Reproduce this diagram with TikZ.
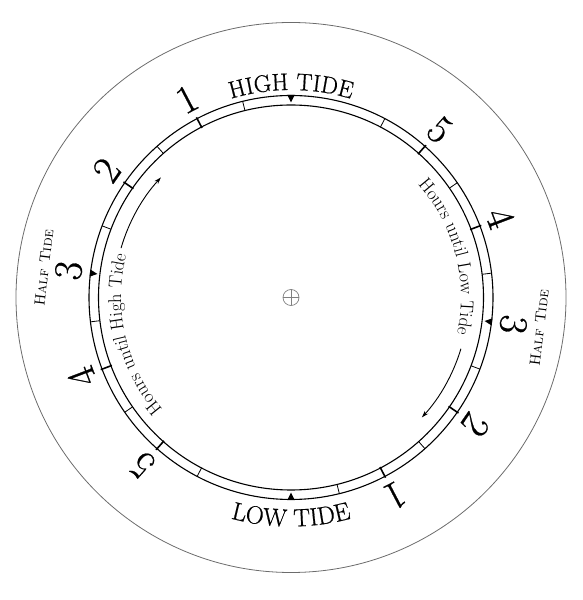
\documentclass[tikz,border=0pt]{standalone}
\usepackage{fontspec}
\newfontfamily\dialfont{Latin Modern Roman}[FakeBold=0.6]
\usetikzlibrary{decorations.text,arrows.meta}
\begin{document}
\begin{tikzpicture}[x=1pt,y=1pt,
  outerline/.style={draw=gray!85!black, line width=0.8pt},
  ringline/.style={line width=1.1pt},
  ticklight/.style={line width=0.8pt},
  tickbold/.style={line width=1.6pt},
  numlab/.style={font=\dialfont\fontsize{40}{40}\selectfont, inner sep=0pt},
  halflab/.style={font=\fontsize{15}{15}\selectfont\scshape, inner sep=0pt},
  tidemark/.style={fill=black},
  hoursarrow/.style={line width=0.9pt, -{Stealth[length=7pt,width=4.5pt]}},
  centermark/.style={draw=gray, line width=0.7pt},
]
\useasboundingbox (0,0) rectangle (582,600);
\begin{scope}[shift={(291,302.5)}]
\coordinate (C) at (0,0);
\draw[outerline] (C) circle[radius=275];
\draw[ringline] (C) circle[radius=202];
\draw[ringline] (C) circle[radius=192.5];
% light ticks
\foreach \k in {1,3,5,7,9,11} {
  \draw[ticklight] ({90+\k*180/13}:192.5) -- ({90+\k*180/13}:202);
  \draw[ticklight] ({-90+\k*180/13}:192.5) -- ({-90+\k*180/13}:202);
}
% labelled ticks
\foreach \k/\n in {2/1,4/2,8/4,10/5} {
  \draw[tickbold] ({90+\k*180/13}:191.5) -- ({90+\k*180/13}:203.5);
  \draw[tickbold] ({-90+\k*180/13}:191.5) -- ({-90+\k*180/13}:203.5);
  \node[numlab, rotate={\k*180/13}] (L\n) at ({90+\k*180/13}:224) {\n};
  \node[numlab, rotate={\k*180/13-180}] (R\n) at ({-90+\k*180/13}:224) {\n};
}
% half tide
\node[numlab, rotate={6*180/13}] (L3) at ({90+6*180/13}:224) {3};
\node[numlab, rotate={6*180/13-180}] (R3) at ({-90+6*180/13}:224) {3};
\node[halflab, rotate={6*180/13}] (LH) at ({90+6*180/13}:249) {Half Tide};
\node[halflab, rotate={6*180/13}] (RH) at ({-90+6*180/13}:250) {Half Tide};
% triangles
\foreach \a in {90,270,{90+6*180/13},{-90+6*180/13}} {
  \fill[tidemark, rotate=\a] (202.5,3.6) -- (202.5,-3.6) -- (195,0) -- cycle;
}
% curved titles
\path[decorate, decoration={text along path, text align=center,
  text={|\dialfont\fontsize{24}{24}\selectfont|HIGH TIDE}}]
  (130:207.5) arc[start angle=130, end angle=50, radius=207.5];
\path[decorate, decoration={text along path, text align=center,
  text={|\dialfont\fontsize{25}{25}\selectfont|LOW TIDE}}]
  (230:229) arc[start angle=230, end angle=310, radius=229];
% hours texts
\path[decorate, decoration={text along path,
  text={|\fontsize{18.5}{18.5}\selectfont|Hours until High Tide}}]
  (221:170) arc[start angle=221, end angle=130, radius=170];
\path[decorate, decoration={text along path,
  text={|\fontsize{18.5}{18.5}\selectfont|Hours until Low Tide}}]
  (41.8:170) arc[start angle=41.8, end angle=-50, radius=170];
\draw[hoursarrow] (163.8:177) arc[start angle=163.8, end angle=137.3, radius=177];
\draw[hoursarrow] (-16.8:177.5) arc[start angle=-16.8, end angle=-42.5, radius=177.5];
% center mark
\draw[centermark] (C) circle[radius=8];
\draw[centermark] (-8,0) -- (8,0);
\draw[centermark] (0,-8) -- (0,8);
\end{scope}
\end{tikzpicture}
\end{document}
